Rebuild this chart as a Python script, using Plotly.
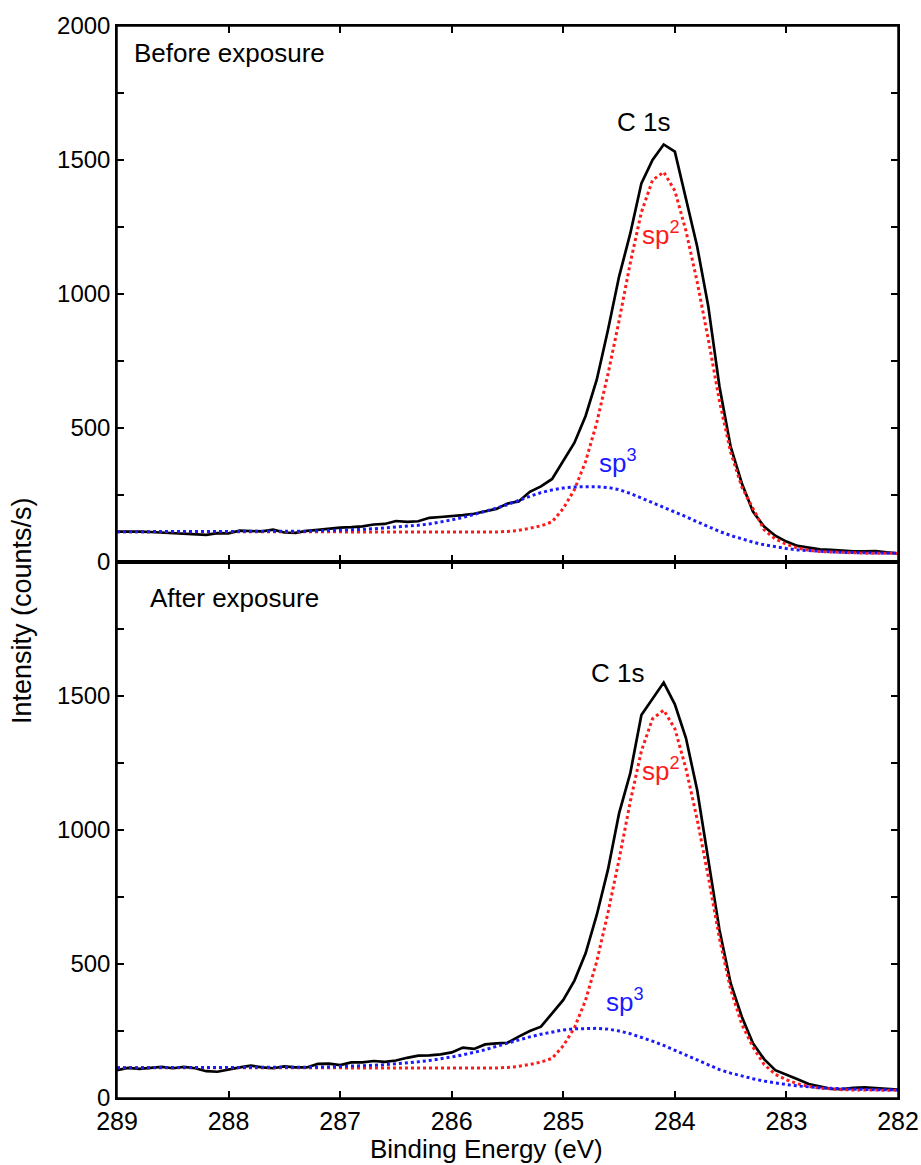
import plotly.graph_objects as go

# Binding energy grid (eV)
energy = [289.0, 288.9, 288.8, 288.7, 288.6, 288.5, 288.4, 288.3, 288.2, 288.1,
          288.0, 287.9, 287.8, 287.7, 287.6, 287.5, 287.4, 287.3, 287.2, 287.1,
          287.0, 286.9, 286.8, 286.7, 286.6, 286.5, 286.4, 286.3, 286.2, 286.1,
          286.0, 285.9, 285.8, 285.7, 285.6, 285.5, 285.4, 285.3, 285.2, 285.1,
          285.0, 284.9, 284.8, 284.7, 284.6, 284.5, 284.4, 284.3, 284.2, 284.1,
          284.0, 283.9, 283.8, 283.7, 283.6, 283.5, 283.4, 283.3, 283.2, 283.1,
          283.0, 282.9, 282.8, 282.7, 282.6, 282.5, 282.4, 282.3, 282.2, 282.1,
          282.0]

# Before exposure
before_total = [113, 114, 113, 112, 110, 108, 106, 104, 101, 108,
                107, 117, 116, 114, 121, 110, 109, 116, 120, 125,
                128, 130, 133, 140, 142, 153, 150, 152, 165, 168,
                171, 175, 180, 188, 198, 218, 226, 262, 282, 310,
                375, 445, 545, 680, 865, 1065, 1225, 1413, 1500, 1558,
                1531, 1357, 1177, 953, 654, 430, 294, 188, 132, 98,
                76, 60, 54, 47, 45, 42, 40, 40, 41, 36,
                32]
before_sp2 = [113, 113, 113, 113, 113, 113, 113, 113, 113, 113,
              113, 113, 113, 113, 113, 113, 113, 113, 113, 113,
              113, 113, 113, 113, 113, 113, 113, 113, 113, 112,
              112, 111, 111, 111, 112, 114, 118, 126, 135, 150,
              200, 270, 375, 520, 700, 900, 1115, 1305, 1425, 1455,
              1385, 1235, 1045, 830, 600, 410, 280, 200, 120, 86,
              66, 52, 44, 39, 37, 35, 34, 33, 33, 32,
              32]
before_sp3 = [113, 113, 113, 113, 113, 113, 113, 113, 113, 113,
              113, 113, 113, 113, 113, 113, 114, 115, 116, 117,
              118, 120, 122, 124, 127, 130, 133, 137, 142, 149,
              157, 166, 177, 189, 201, 214, 230, 245, 259, 269,
              276, 280, 281, 281, 278, 270, 256, 239, 221, 204,
              187, 169, 150, 131, 114, 99, 86, 74, 64, 56,
              50, 45, 42, 40, 38, 36, 35, 34, 33, 33,
              32]

# After exposure
after_total = [104, 112, 109, 113, 116, 111, 116, 111, 100, 98,
               107, 114, 121, 114, 111, 118, 114, 114, 127, 128,
               123, 133, 133, 138, 135, 140, 150, 158, 159, 163,
               170, 188, 183, 200, 204, 206, 229, 250, 266, 316,
               366, 438, 540, 683, 851, 1062, 1211, 1429, 1489, 1550,
               1469, 1342, 1149, 888, 627, 428, 303, 204, 145, 104,
               88, 70, 52, 42, 34, 33, 38, 40, 36, 34,
               31]
after_sp2 = [113, 113, 113, 113, 113, 113, 113, 113, 113, 113,
             113, 113, 113, 113, 113, 113, 113, 113, 113, 113,
             113, 113, 113, 113, 113, 113, 113, 113, 113, 112,
             112, 111, 111, 111, 112, 114, 118, 125, 134, 148,
             195, 262, 365, 510, 690, 890, 1105, 1295, 1415, 1447,
             1378, 1228, 1040, 825, 595, 405, 275, 190, 125, 88,
             68, 53, 43, 37, 33, 31, 30, 30, 29, 29,
             29]
after_sp3 = [113, 113, 113, 113, 113, 113, 113, 113, 113, 113,
             113, 113, 113, 113, 113, 113, 113, 114, 115, 116,
             117, 118, 120, 122, 124, 127, 131, 135, 140, 146,
             153, 161, 170, 180, 193, 205, 217, 228, 238, 247,
             254, 258, 260, 260, 257, 250, 240, 227, 212, 196,
             178, 160, 140, 122, 106, 93, 82, 72, 63, 56,
             50, 45, 41, 38, 36, 34, 33, 32, 31, 30,
             30]

y_major = [0, 500, 1000, 1500, 2000]
y_minor = [250, 750, 1250, 1750]
x_ticks = [289, 288, 287, 286, 285, 284, 283, 282]

FONT = "Liberation Sans, Arial, Helvetica, sans-serif"
BLACK = "#000000"
RED = "#ff1a1a"
BLUE = "#1a1aff"

fig = go.Figure()

def add_panel(total, sp2, sp3, xa, ya):
    fig.add_trace(go.Scatter(x=energy, y=total, mode="lines", xaxis=xa, yaxis=ya,
                             line=dict(color=BLACK, width=2.7), showlegend=False))
    fig.add_trace(go.Scatter(x=energy, y=sp2, mode="lines", xaxis=xa, yaxis=ya,
                             line=dict(color=RED, width=3, dash="dot"), showlegend=False))
    fig.add_trace(go.Scatter(x=energy, y=sp3, mode="lines", xaxis=xa, yaxis=ya,
                             line=dict(color=BLUE, width=3, dash="dot"), showlegend=False))

add_panel(before_total, before_sp2, before_sp3, "x2", "y2")
add_panel(after_total, after_sp2, after_sp3, "x", "y")

# empty traces so the right-hand frame axes are drawn
fig.add_trace(go.Scatter(x=[], y=[], xaxis="x", yaxis="y3", showlegend=False, hoverinfo="skip"))
fig.add_trace(go.Scatter(x=[], y=[], xaxis="x2", yaxis="y4", showlegend=False, hoverinfo="skip"))

xcommon = dict(range=[289, 282], tickmode="array", tickvals=x_ticks,
               ticks="inside", ticklen=7, tickwidth=1.5, tickcolor=BLACK,
               showline=True, linewidth=1.5, linecolor=BLACK, mirror="ticks",
               showgrid=False, zeroline=False, automargin=False,
               ticklabeloverflow="allow",
               tickfont=dict(family=FONT, size=25, color=BLACK))
ycommon = dict(range=[0, 2000], tickmode="array",
               ticks="inside", ticklen=7, tickwidth=1.5, tickcolor=BLACK,
               showline=True, linewidth=1.5, linecolor=BLACK,
               showgrid=False, zeroline=False,
               minor=dict(tickmode="array", tickvals=y_minor, ticks="inside",
                          ticklen=7, tickwidth=1.5, tickcolor=BLACK, showgrid=False),
               tickfont=dict(family=FONT, size=24, color=BLACK))

fig.update_layout(
    width=921, height=1165,
    margin=dict(l=117, r=23, t=26, b=67, pad=0),
    paper_bgcolor="white", plot_bgcolor="white",
    showlegend=False,
    xaxis=dict(anchor="y", domain=[0, 1], **xcommon),
    xaxis2=dict(anchor="y2", domain=[0, 1], matches="x", showticklabels=False, **xcommon),
    yaxis=dict(anchor="x", domain=[0, 0.5], tickvals=y_major, mirror="ticks",
               ticktext=["0", "500", "1000", "1500", ""], **ycommon),
    yaxis2=dict(anchor="x2", domain=[0.5, 1], tickvals=y_major, mirror="ticks",
                ticktext=["0", "500", "1000", "1500", "2000"], **ycommon),
    yaxis3=dict(anchor="x", overlaying="y", side="right", tickvals=y_major,
                showticklabels=False, **ycommon),
    yaxis4=dict(anchor="x2", overlaying="y2", side="right", tickvals=y_major,
                showticklabels=False, **ycommon),
)

# explicit frame around each panel (decoration, in axis-domain coordinates)
fig.add_shape(type="rect", xref="x domain", yref="y domain", x0=0, x1=1, y0=0, y1=1,
              line=dict(color=BLACK, width=1.5), layer="above")
fig.add_shape(type="rect", xref="x2 domain", yref="y2 domain", x0=0, x1=1, y0=0, y1=1,
              line=dict(color=BLACK, width=1.5), layer="above")

ann_font = dict(family=FONT, size=26, color=BLACK)
annotations = [
    dict(text="Before exposure", x=288.87, y=1898, xref="x2", yref="y2",
         xanchor="left", yanchor="middle", showarrow=False, font=ann_font),
    dict(text="After exposure", x=288.72, y=1865, xref="x", yref="y",
         xanchor="left", yanchor="middle", showarrow=False, font=ann_font),
    dict(text="C 1s", x=284.28, y=1640, xref="x2", yref="y2",
         xanchor="center", yanchor="middle", showarrow=False, font=ann_font),
    dict(text="C 1s", x=284.51, y=1587, xref="x", yref="y",
         xanchor="center", yanchor="middle", showarrow=False, font=ann_font),
    dict(text="sp<sup>2</sup>", x=284.12, y=1225, xref="x2", yref="y2",
         xanchor="center", yanchor="middle", showarrow=False,
         font=dict(family=FONT, size=26, color=RED)),
    dict(text="sp<sup>2</sup>", x=284.12, y=1225, xref="x", yref="y",
         xanchor="center", yanchor="middle", showarrow=False,
         font=dict(family=FONT, size=26, color=RED)),
    dict(text="sp<sup>3</sup>", x=284.51, y=375, xref="x2", yref="y2",
         xanchor="center", yanchor="middle", showarrow=False,
         font=dict(family=FONT, size=26, color=BLUE)),
    dict(text="sp<sup>3</sup>", x=284.45, y=362, xref="x", yref="y",
         xanchor="center", yanchor="middle", showarrow=False,
         font=dict(family=FONT, size=26, color=BLUE)),
    dict(text="Binding Energy (eV)", x=(486 - 117) / 781, y=(1098 - 1149) / 1072,
         xref="paper", yref="paper", xanchor="center", yanchor="middle",
         showarrow=False, font=dict(family=FONT, size=26, color=BLACK)),
    dict(text="Intensity (counts/s)", x=(22 - 117) / 781, y=(1098 - 611) / 1072,
         xref="paper", yref="paper", xanchor="center", yanchor="middle",
         textangle=-90, showarrow=False, font=dict(family=FONT, size=27, color=BLACK)),
]
fig.update_layout(annotations=annotations)

fig.write_html("out.html")
